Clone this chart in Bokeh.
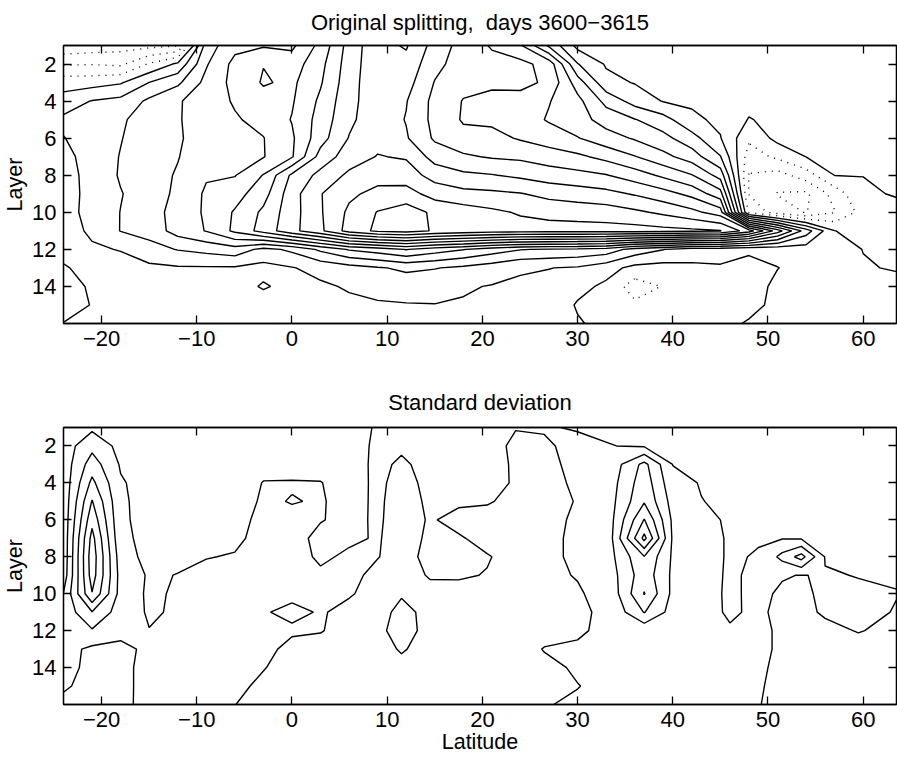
import numpy as np
import contourpy
from bokeh.plotting import figure
from bokeh.layouts import column
from bokeh.models import Range1d, FixedTicker, LinearAxis
from bokeh.embed import file_html
from bokeh.resources import INLINE

# ---------------- grid coordinates ----------------
top_lat = [-24, -21, -18, -15, -12, -9, -6, -3, 0, 3, 6, 9, 12, 15, 18, 21, 24, 27,
           30, 33, 36, 39, 42, 45, 48, 51, 54, 57, 60, 63.5]
bot_lat = [-24, -21, -18, -15, -12, -9, -6, -3, 0, 3, 6, 9, 11.5, 14.5, 17.5, 20.5, 23.5, 26.5,
           30, 33.5, 37, 40, 43, 46, 49, 51.5, 53.5, 56, 59.5, 63.5]
layer = [1, 2, 3, 4, 5, 6, 7, 8, 9, 10, 11, 12, 13, 14, 15, 16]

x_ticks = [-20, -10, 0, 10, 20, 30, 40, 50, 60]
y_ticks = [2, 4, 6, 8, 10, 12, 14]

# ---------------- top panel: values per latitude (layers 1..16) ----------------
top_m24 = [-3.8, -2.1, -0.45, 0.45, 1.2, 0.97, 0.75, 0.65, 0.6, 0.6, 0.5, 0.35, -0.1, -0.3, -0.3, 0.02]
top_m21 = [-3.6, -2.05, -0.4, 1.05, 1.4, 1.4, 1.35, 1.3, 1.3, 1.35, 1.2, 0.85, 0.35, 0.1, 0.03, 0.15]
top_m18 = [-3.4, -2.2, -0.1, 1.3, 1.85, 1.95, 2.05, 2.1, 1.95, 2.02, 2.03, 1.05, 0.6, 0.35, 0.3, 0.3]
top_m15 = [-3.3, -0.9, 1.02, 2.2, 2.5, 2.6, 2.6, 2.55, 2.5, 2.6, 2.4, 1.6, 0.8, 0.5, 0.4, 0.35]
top_m12 = [-3.1, 0.2, 1.8, 2.9, 2.9, 2.85, 2.95, 3.1, 3.2, 3.35, 3.4, 2.05, 0.9, 0.5, 0.45, 0.4]
top_m09 = [2.5, 2.9, 3.3, 3.5, 3.6, 3.6, 3.7, 3.9, 4.15, 4.15, 4.05, 2.3, 0.9, 0.55, 0.5, 0.45]
top_m06 = [3.7, 4.3, 4.3, 4.1, 3.9, 3.85, 3.9, 3.95, 4.6, 5.1, 5.2, 2.6, 0.9, 0.6, 0.5, 0.5]
top_m03 = [3.9, 4.97, 5.1, 4.6, 4.3, 3.97, 3.95, 5.05, 5.6, 6.2, 6.4, 1.7, 0.7, 1.1, 0.5, 0.55]
top_p00 = [3.8, 4.5, 4.8, 4.9, 5.05, 4.85, 4.9, 7.2, 7.6, 7.6, 7.7, 2.2, 0.95, 0.7, 0.55, 0.5]
top_p03 = [5.3, 5.7, 5.9, 6.2, 6.4, 6.6, 7.4, 8.3, 8.95, 8.9, 8.8, 3.2, 1.3, 0.85, 0.65, 0.55]
top_p06 = [7.4, 7.5, 7.6, 7.7, 7.8, 8.05, 8.5, 9.2, 9.8, 10.2, 10.4, 4.1, 1.6, 1.1, 0.8, 0.6]
top_p09 = [8.7, 8.7, 8.7, 8.6, 8.6, 8.7, 9.05, 9.6, 10.3, 11.05, 11.2, 4.5, 1.9, 1.3, 0.9, 0.7]
top_p12 = [9.1, 8.7, 8.4, 8.05, 7.95, 8.1, 8.9, 9.5, 10.4, 11.5, 11.4, 5.05, 2.2, 1.4, 0.95, 0.75]
top_p15 = [7.6, 7.3, 6.95, 6.7, 6.7, 6.85, 7.6, 8.6, 9.6, 10.8, 10.9, 4.5, 2.05, 1.3, 0.98, 0.8]
top_p18 = [6.6, 6.5, 6.3, 5.95, 5.9, 6.3, 7.15, 8.2, 9.3, 10.5, 10.7, 4.05, 1.8, 1.1, 0.92, 0.8]
top_p21 = [5.9, 6.3, 6.2, 5.7, 5.8, 6.3, 6.9, 8.05, 9.2, 10.2, 10.5, 3.5, 1.5, 0.95, 0.85, 0.8]
top_p24 = [5.1, 6.3, 6.3, 5.6, 5.5, 5.9, 6.8, 7.8, 9.05, 9.9, 10.4, 3.05, 1.1, 0.85, 0.8, 0.75]
top_p27 = [2.8, 5.6, 5.8, 5.05, 4.9, 5.5, 6.5, 7.5, 8.7, 9.7, 10.4, 2.9, 1.02, 0.75, 0.7, 0.65]
top_p30 = [0.7, 2.05, 3.5, 4.3, 4.4, 5.05, 6.2, 7.3, 8.5, 9.6, 10.4, 2.8, 0.9, 0.3, -0.1, 0.1]
top_p33 = [0.6, 0.9, 1.3, 2.7, 3.6, 4.4, 5.7, 7.05, 8.3, 9.5, 10.4, 2.6, 0.4, -0.2, -0.5, -0.3]
top_p36 = [0.55, 0.75, 0.95, 1.6, 3.05, 3.9, 5.05, 6.5, 7.9, 9.2, 10.4, 1.6, -0.3, -1.5, -0.8, -0.5]
top_p39 = [0.5, 0.65, 0.8, 0.95, 2.4, 3.3, 4.3, 5.8, 7.4, 8.8, 10.3, 1.03, -0.4, -0.95, -0.8, -0.6]
top_p42 = [0.5, 0.6, 0.7, 0.85, 1.2, 2.4, 3.5, 5.05, 6.7, 8.3, 10.2, 0.5, -0.2, -0.4, -0.5, -0.5]
top_p45 = [0.5, 0.55, 0.6, 0.7, 0.8, 1.05, 2.05, 3.6, 5.4, 7.5, 10.05, 0.4, -0.1, -0.3, -0.4, -0.3]
top_p48 = [0.5, 0.45, 0.4, 0.3, -0.05, -0.8, -1.5, -2.05, -2.05, -1.2, 8.5, 0.2, -0.4, -0.4, -0.3, 0.1]
top_p51 = [0.5, 0.5, 0.45, 0.4, 0.25, 0.3, -0.8, -2.4, -3.05, -2.5, 5.5, 0.3, -0.02, 0.2, 0.25, 0.3]
top_p54 = [0.6, 0.55, 0.5, 0.45, 0.4, 0.3, 0.02, -1.5, -3.2, -3.05, 2.5, 0.5, 0.3, 0.4, 0.4, 0.4]
top_p57 = [0.6, 0.6, 0.55, 0.5, 0.45, 0.4, 0.3, 0.02, -1.6, -2.05, 0.02, 0.6, 0.5, 0.5, 0.45, 0.45]
top_p60 = [0.6, 0.6, 0.6, 0.55, 0.5, 0.45, 0.4, 0.01, -0.1, -0.6, -0.4, -0.03, 0.1, 0.5, 0.5, 0.5]
top_p63 = [0.6, 0.6, 0.6, 0.6, 0.55, 0.5, 0.45, 0.3, 0.05, -0.2, -0.3, -0.2, -0.1, 0.4, 0.5, 0.5]

top_columns = [top_m24, top_m21, top_m18, top_m15, top_m12, top_m09, top_m06, top_m03,
               top_p00, top_p03, top_p06, top_p09, top_p12, top_p15, top_p18, top_p21,
               top_p24, top_p27, top_p30, top_p33, top_p36, top_p39, top_p42, top_p45,
               top_p48, top_p51, top_p54, top_p57, top_p60, top_p63]
top_levels_neg = [-3, -2, -1]
top_levels_pos = [0, 1, 2, 3, 4, 5, 6, 7, 8, 9, 10, 11]

# ---------------- bottom panel: values per latitude (layers 1..16) ----------------
bot_m24 = [0.6, 0.5, 0.4, 0.35, 0.32, 0.31, 0.31, 0.31, 0.4, 1.04, 1.3, 1.35, 1.35, 1.25, 1.1, 0.8]
bot_m21 = [0.8, 1.7, 2.5, 3.25, 4.06, 4.7, 5.35, 5.6, 5.5, 4.95, 2.95, 1.9, 0.8, 0.8, 0.75, 0.7]
bot_m18 = [0.5, 0.7, 0.9, 1.1, 1.15, 1.15, 1.2, 1.45, 1.6, 1.6, 1.5, 1.3, 0.75, 0.75, 0.75, 0.8]
bot_m15 = [0.5, 0.5, 0.55, 0.6, 0.65, 0.7, 0.75, 0.7, 0.9, 0.85, 0.9, 1.02, 1.2, 1.3, 1.3, 1.25]
bot_m12 = [0.5, 0.5, 0.5, 0.55, 0.6, 0.65, 0.75, 0.85, 1.02, 1.1, 1.1, 1.2, 1.3, 1.3, 1.3, 1.3]
bot_m09 = [0.45, 0.45, 0.5, 0.55, 0.6, 0.7, 0.85, 0.97, 1.2, 1.3, 1.3, 1.3, 1.35, 1.35, 1.3, 1.3]
bot_m06 = [0.45, 0.45, 0.5, 0.55, 0.65, 0.75, 0.85, 1.05, 1.25, 1.3, 1.3, 1.3, 1.3, 1.25, 1.15, 1.01]
bot_m03 = [0.5, 0.55, 0.75, 1.03, 1.1, 1.2, 1.25, 1.3, 1.3, 1.3, 1.05, 1.3, 1.2, 1.03, 0.87, 0.75]
bot_p00 = [0.5, 0.55, 0.7, 1.05, 0.97, 1.15, 1.2, 1.25, 1.25, 1.15, 0.85, 1.1, 0.8, 0.75, 0.7, 0.7]
bot_p03 = [0.55, 0.6, 0.8, 1.02, 1.05, 1.03, 0.85, 0.9, 1.1, 1.2, 1.05, 1.03, 0.8, 0.75, 0.7, 0.7]
bot_p06 = [0.6, 0.65, 0.7, 0.75, 0.8, 0.85, 0.9, 1.1, 1.15, 1.05, 0.85, 0.8, 0.75, 0.7, 0.7, 0.7]
bot_p09 = [1.1, 1.15, 1.15, 1.12, 1.1, 1.08, 1.05, 1.02, 0.85, 0.8, 0.8, 0.85, 0.8, 0.75, 0.7, 0.7]
bot_p11 = [1.2, 1.1, 0.9, 0.8, 0.75, 0.75, 0.75, 0.8, 0.85, 0.95, 1.15, 1.25, 1.05, 0.85, 0.8, 0.8]
bot_p14 = [1.3, 1.25, 1.2, 1.15, 1.1, 1.05, 1.1, 1.15, 1.03, 0.9, 0.85, 0.8, 0.8, 0.8, 0.8, 0.8]
bot_p17 = [1.3, 1.25, 1.2, 1.15, 1.08, 0.85, 1.05, 1.1, 1.05, 0.85, 0.8, 0.8, 0.8, 0.8, 0.8, 0.8]
bot_p20 = [1.25, 1.2, 1.15, 1.1, 1.05, 0.8, 0.85, 1.03, 0.98, 0.8, 0.8, 0.8, 0.8, 0.8, 0.8, 0.8]
bot_p23 = [1.02, 0.9, 0.95, 0.97, 0.85, 0.8, 0.8, 0.85, 0.85, 0.8, 0.8, 0.8, 0.8, 0.8, 0.8, 0.8]
bot_p26 = [1.03, 0.95, 0.85, 0.8, 0.8, 0.8, 0.8, 0.8, 0.8, 0.8, 0.8, 0.85, 1.02, 0.9, 0.9, 0.98]
bot_p30 = [0.97, 1.1, 1.15, 1.1, 1.03, 1.1, 1.15, 1.15, 1.05, 0.9, 0.85, 0.95, 1.05, 1.05, 0.99, 1.05]
bot_p33 = [0.85, 1.02, 1.4, 1.6, 1.7, 1.75, 1.8, 1.75, 1.6, 1.4, 1.2, 1.1, 1.1, 1.1, 1.1, 1.1]
bot_p37 = [0.85, 0.9, 3.3, 3.6, 3.9, 5.05, 6.3, 3.95, 3.6, 4.05, 3.05, 1.3, 1.15, 1.1, 1.1, 1.1]
bot_p40 = [0.85, 0.88, 0.98, 1.3, 1.6, 1.8, 1.85, 1.85, 1.8, 1.75, 1.6, 1.4, 1.2, 1.1, 1.1, 1.1]
bot_p43 = [0.8, 0.8, 0.85, 0.95, 1.02, 1.2, 1.3, 1.3, 1.3, 1.25, 1.2, 1.3, 1.2, 1.1, 1.1, 1.1]
bot_p46 = [0.75, 0.75, 0.75, 0.8, 0.85, 0.9, 0.92, 0.92, 0.9, 0.9, 0.93, 1.05, 1.15, 1.1, 1.1, 1.1]
bot_p49 = [0.75, 0.75, 0.75, 0.8, 0.85, 0.9, 0.95, 1.05, 1.15, 1.15, 1.1, 1.2, 1.2, 1.1, 1.05, 1.02]
bot_p51 = [0.75, 0.75, 0.75, 0.8, 0.85, 0.9, 0.95, 2.3, 1.05, 0.9, 0.85, 0.85, 0.85, 0.85, 0.85, 0.85]
bot_p53 = [0.75, 0.75, 0.75, 0.8, 0.85, 0.88, 0.9, 3.4, 0.98, 0.9, 0.9, 0.95, 0.85, 0.8, 0.8, 0.8]
bot_p56 = [0.75, 0.75, 0.75, 0.8, 0.85, 0.9, 0.92, 0.95, 1.05, 1.1, 1.05, 0.9, 0.85, 0.8, 0.8, 0.8]
bot_p59 = [0.75, 0.75, 0.75, 0.8, 0.85, 0.9, 0.92, 0.95, 0.98, 1.1, 1.1, 1.02, 0.85, 0.8, 0.8, 0.8]
bot_p63 = [0.75, 0.75, 0.75, 0.8, 0.85, 0.9, 0.92, 0.95, 0.97, 1.01, 0.98, 0.9, 0.85, 0.8, 0.8, 0.8]

bot_columns = [bot_m24, bot_m21, bot_m18, bot_m15, bot_m12, bot_m09, bot_m06, bot_m03,
               bot_p00, bot_p03, bot_p06, bot_p09, bot_p11, bot_p14, bot_p17, bot_p20,
               bot_p23, bot_p26, bot_p30, bot_p33, bot_p37, bot_p40, bot_p43, bot_p46,
               bot_p49, bot_p51, bot_p53, bot_p56, bot_p59, bot_p63]
bot_levels = [1, 2, 3, 4, 5, 6]

FONT = "Liberation Sans"


def contour_lines(lats, z_columns, levels):
    z = np.array(z_columns, dtype=float).T  # shape (layers, lat)
    gen = contourpy.contour_generator(x=np.array(lats, float), y=np.array(layer, float),
                                      z=z, line_type="Separate")
    xs, ys = [], []
    for lev in levels:
        for seg in gen.lines(lev):
            xs.append(seg[:, 0].tolist())
            ys.append(seg[:, 1].tolist())
    return xs, ys


def style_axis(ax, labels=True):
    ax.major_tick_in = 8
    ax.major_tick_out = 0
    ax.minor_tick_line_color = None
    ax.axis_line_color = "black"
    ax.axis_line_width = 1.3
    ax.major_tick_line_color = "black"
    ax.major_tick_line_width = 1.3
    ax.major_label_text_font = FONT
    if labels:
        ax.major_label_text_color = "black"
        ax.major_label_text_font_size = "22px"
        ax.major_label_standoff = 7
    else:
        ax.major_label_text_color = None
        ax.major_label_standoff = 0


def make_panel(title, height, top_border, bottom_border, title_standoff, xlabel=None):
    p = figure(width=897, height=height, x_range=Range1d(-24, 63.5), y_range=Range1d(16, 1),
               output_backend="svg", toolbar_location=None, tools="",
               min_border_left=61, min_border_right=1,
               min_border_top=top_border, min_border_bottom=bottom_border)
    p.grid.visible = False
    p.outline_line_color = "black"
    p.outline_line_width = 1.3
    p.background_fill_color = "white"
    p.border_fill_color = "white"

    p.title.text = title
    p.title.align = "center"
    p.title.vertical_align = "top"
    p.title.text_font = FONT
    p.title.text_font_style = "normal"
    p.title.text_font_size = "22px"
    p.title.text_color = "black"
    p.title.standoff = title_standoff

    xa = p.below[0]
    xa.ticker = FixedTicker(ticks=x_ticks)
    xa.major_label_overrides = {-20: "\u221220", -10: "\u221210"}
    style_axis(xa)
    if xlabel:
        xa.axis_label = xlabel
        xa.axis_label_text_font = FONT
        xa.axis_label_text_font_style = "normal"
        xa.axis_label_text_font_size = "21.5px"
        xa.axis_label_text_color = "black"
        xa.axis_label_standoff = 0

    ya = p.left[0]
    ya.ticker = FixedTicker(ticks=y_ticks)
    style_axis(ya)
    ya.axis_label = "Layer"
    ya.axis_label_text_font = FONT
    ya.axis_label_text_font_style = "normal"
    ya.axis_label_text_font_size = "21.5px"
    ya.axis_label_text_color = "black"
    ya.axis_label_standoff = 2

    top_ax = LinearAxis(ticker=FixedTicker(ticks=x_ticks))
    style_axis(top_ax, labels=False)
    p.add_layout(top_ax, "above")
    right_ax = LinearAxis(ticker=FixedTicker(ticks=y_ticks))
    style_axis(right_ax, labels=False)
    p.add_layout(right_ax, "right")
    return p


p1 = make_panel("Original splitting,\u00a0 days 3600\u22123615", 360, 45, 37, 18)
xs, ys = contour_lines(top_lat, top_columns, top_levels_pos)
p1.multi_line(xs, ys, line_color="black", line_width=1.4)
xs, ys = contour_lines(top_lat, top_columns, top_levels_neg)
p1.multi_line(xs, ys, line_color="black", line_width=1.4, line_dash="1 6")

p2 = make_panel("Standard deviation", 397, 67, 53, 22, xlabel="Latitude")
xs, ys = contour_lines(bot_lat, bot_columns, bot_levels)
p2.multi_line(xs, ys, line_color="black", line_width=1.4)

layout = column(p1, p2)
open("out.html", "w").write(file_html(layout, INLINE))
